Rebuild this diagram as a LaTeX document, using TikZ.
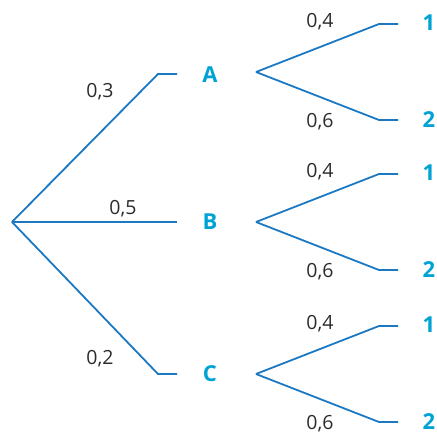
\documentclass[tikz,border=0pt]{standalone}
\usepackage{fontspec}
\setmainfont{Open Sans}
\definecolor{linec}{HTML}{1B78C2}
\definecolor{letc}{HTML}{00A3D4}
\definecolor{numc}{HTML}{2B2B2B}
\begin{document}
\begin{tikzpicture}[x=1pt,y=-1pt,
  br/.style={draw=linec,line width=1.8pt,line join=miter},
  evt/.style={font=\fontsize{22}{26}\selectfont\bfseries,text=letc,inner sep=0pt},
  prob/.style={font=\fontsize{19.5}{23}\selectfont,text=numc,inner sep=0pt}]
\useasboundingbox (0,0) rectangle (437,434);
% first level
\coordinate (r) at (12,222);
\coordinate (aK) at (158,74); \coordinate (aE) at (177,74);
\coordinate (bE) at (177,222);
\coordinate (cK) at (158,374); \coordinate (cE) at (177,374);
\node[evt] (A) at (210,75) {A};
\node[evt] (B) at (210,222) {B};
\node[evt] (C) at (210,374) {C};
\draw[br] (r) -- (aK) -- (aE);
\draw[br] (r) -- (bE);
\draw[br] (r) -- (cK) -- (cE);
\node[prob] (p3) at (100,92) {0,3};
\node[prob] (p5) at (123,209) {0,5};
\node[prob] (p2) at (100,359) {0,2};
% second level
\foreach \n/\y in {a/72,b/222,c/374}{
  \coordinate (\n V) at (256,\y);
  \coordinate (\n 1K) at (379,\y-48); \coordinate (\n 1E) at (398,\y-48);
  \coordinate (\n 2K) at (379,\y+48); \coordinate (\n 2E) at (398,\y+48);
  \draw[br] (\n V) -- (\n 1K) -- (\n 1E);
  \draw[br] (\n V) -- (\n 2K) -- (\n 2E);
  \node[evt] (\n one) at (429,\y-49) {1};
  \node[evt] (\n two) at (429,\y+48) {2};
  \node[prob] (\n q4) at (320,\y-50) {0,4};
  \node[prob] (\n q6) at (320,\y+49.5) {0,6};
}
\end{tikzpicture}
\end{document}
